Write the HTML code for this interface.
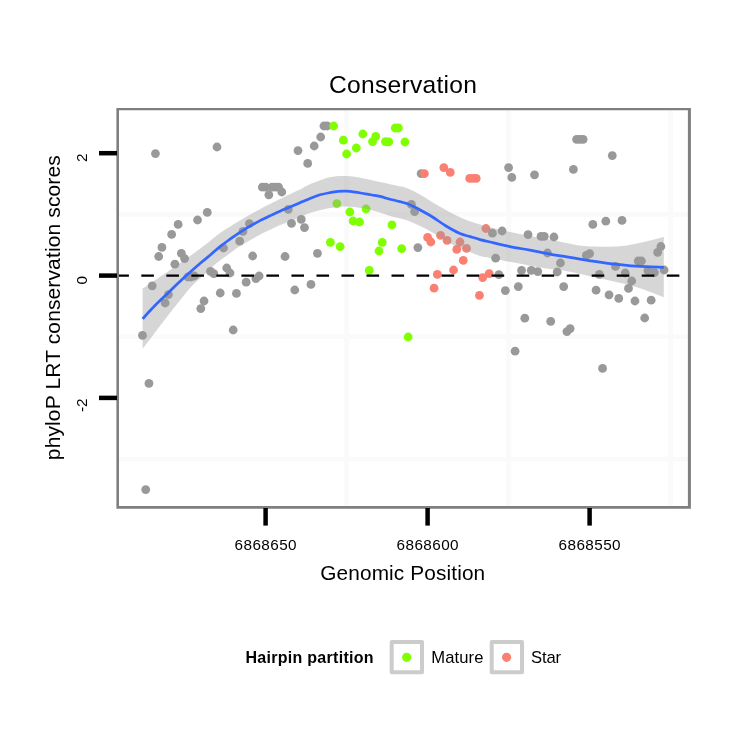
<!DOCTYPE html>
<html><head><meta charset="utf-8"><title>Conservation</title>
<style>
html,body{margin:0;padding:0;background:#fff;}
body{width:750px;height:750px;overflow:hidden;}
svg{display:block;}
text{font-family:"Liberation Sans",sans-serif;fill:#000;}
</style></head><body>
<svg width="750" height="750" viewBox="0 0 750 750">
<rect x="0" y="0" width="750" height="750" fill="#ffffff"/>
<!-- minor grid -->
<g stroke="#fafafa" stroke-width="4.6" fill="none">
<line x1="118" x2="690" y1="214.4" y2="214.4"/>
<line x1="118" x2="690" y1="336.8" y2="336.8"/>
<line x1="118" x2="690" y1="459.2" y2="459.2"/>
<line x1="346.6" x2="346.6" y1="109" y2="507"/>
<line x1="508.6" x2="508.6" y1="109" y2="507"/>
<line x1="670.6" x2="670.6" y1="109" y2="507"/>
</g>
<!-- points -->
<g stroke="none" fill="#999999">
<circle cx="142.48" cy="335.4" r="4.4"/>
<circle cx="145.72" cy="489.6" r="4.4"/>
<circle cx="148.96" cy="383.4" r="4.4"/>
<circle cx="152.20" cy="285.8" r="4.4"/>
<circle cx="155.44" cy="153.6" r="4.4"/>
<circle cx="158.68" cy="256.5" r="4.4"/>
<circle cx="161.92" cy="247.4" r="4.4"/>
<circle cx="165.16" cy="303.0" r="4.4"/>
<circle cx="168.40" cy="294.6" r="4.4"/>
<circle cx="171.64" cy="234.4" r="4.4"/>
<circle cx="174.88" cy="264.2" r="4.4"/>
<circle cx="178.12" cy="224.4" r="4.4"/>
<circle cx="181.36" cy="253.4" r="4.4"/>
<circle cx="184.60" cy="258.6" r="4.4"/>
<circle cx="187.84" cy="277.0" r="4.4"/>
<circle cx="191.08" cy="277.0" r="4.4"/>
<circle cx="194.32" cy="276.0" r="4.4"/>
<circle cx="197.56" cy="220.0" r="4.4"/>
<circle cx="200.80" cy="308.6" r="4.4"/>
<circle cx="204.04" cy="301.0" r="4.4"/>
<circle cx="207.28" cy="212.4" r="4.4"/>
<circle cx="210.52" cy="271.4" r="4.4"/>
<circle cx="213.76" cy="273.6" r="4.4"/>
<circle cx="217.00" cy="147.0" r="4.4"/>
<circle cx="220.24" cy="293.0" r="4.4"/>
<circle cx="223.48" cy="248.0" r="4.4"/>
<circle cx="226.72" cy="268.0" r="4.4"/>
<circle cx="229.96" cy="273.0" r="4.4"/>
<circle cx="233.20" cy="330.0" r="4.4"/>
<circle cx="236.44" cy="293.4" r="4.4"/>
<circle cx="239.68" cy="241.2" r="4.4"/>
<circle cx="242.92" cy="231.4" r="4.4"/>
<circle cx="246.16" cy="282.2" r="4.4"/>
<circle cx="249.40" cy="223.6" r="4.4"/>
<circle cx="252.64" cy="256.0" r="4.4"/>
<circle cx="255.88" cy="278.6" r="4.4"/>
<circle cx="259.12" cy="276.0" r="4.4"/>
<circle cx="262.36" cy="187.2" r="4.4"/>
<circle cx="265.60" cy="187.2" r="4.4"/>
<circle cx="268.84" cy="194.8" r="4.4"/>
<circle cx="272.08" cy="187.2" r="4.4"/>
<circle cx="275.32" cy="187.2" r="4.4"/>
<circle cx="278.56" cy="187.2" r="4.4"/>
<circle cx="281.80" cy="192.0" r="4.4"/>
<circle cx="285.04" cy="256.5" r="4.4"/>
<circle cx="288.28" cy="209.4" r="4.4"/>
<circle cx="291.52" cy="223.4" r="4.4"/>
<circle cx="294.76" cy="290.0" r="4.4"/>
<circle cx="298.00" cy="150.6" r="4.4"/>
<circle cx="301.24" cy="219.4" r="4.4"/>
<circle cx="304.48" cy="227.6" r="4.4"/>
<circle cx="307.72" cy="163.4" r="4.4"/>
<circle cx="310.96" cy="284.4" r="4.4"/>
<circle cx="314.20" cy="146.0" r="4.4"/>
<circle cx="317.44" cy="253.3" r="4.4"/>
<circle cx="320.68" cy="137.0" r="4.4"/>
<circle cx="323.92" cy="126.0" r="4.4"/>
<circle cx="327.16" cy="126.0" r="4.4"/>
<circle cx="411.40" cy="204.4" r="4.4"/>
<circle cx="414.64" cy="211.6" r="4.4"/>
<circle cx="417.88" cy="247.6" r="4.4"/>
<circle cx="421.12" cy="173.6" r="4.4"/>
<circle cx="492.40" cy="233.2" r="4.4"/>
<circle cx="495.64" cy="258.2" r="4.4"/>
<circle cx="498.88" cy="274.6" r="4.4"/>
<circle cx="502.12" cy="231.0" r="4.4"/>
<circle cx="505.36" cy="290.6" r="4.4"/>
<circle cx="508.60" cy="167.6" r="4.4"/>
<circle cx="511.84" cy="177.4" r="4.4"/>
<circle cx="515.08" cy="351.2" r="4.4"/>
<circle cx="518.32" cy="286.6" r="4.4"/>
<circle cx="521.56" cy="270.4" r="4.4"/>
<circle cx="524.80" cy="318.2" r="4.4"/>
<circle cx="528.04" cy="234.6" r="4.4"/>
<circle cx="531.28" cy="270.4" r="4.4"/>
<circle cx="534.52" cy="174.8" r="4.4"/>
<circle cx="537.76" cy="271.6" r="4.4"/>
<circle cx="541.00" cy="236.4" r="4.4"/>
<circle cx="544.24" cy="236.4" r="4.4"/>
<circle cx="547.48" cy="253.0" r="4.4"/>
<circle cx="550.72" cy="321.4" r="4.4"/>
<circle cx="553.96" cy="237.0" r="4.4"/>
<circle cx="557.20" cy="272.0" r="4.4"/>
<circle cx="560.44" cy="263.0" r="4.4"/>
<circle cx="563.68" cy="286.6" r="4.4"/>
<circle cx="566.92" cy="331.6" r="4.4"/>
<circle cx="570.16" cy="328.6" r="4.4"/>
<circle cx="573.40" cy="169.4" r="4.4"/>
<circle cx="576.64" cy="139.4" r="4.4"/>
<circle cx="579.88" cy="139.4" r="4.4"/>
<circle cx="583.12" cy="139.4" r="4.4"/>
<circle cx="586.36" cy="255.4" r="4.4"/>
<circle cx="589.60" cy="253.6" r="4.4"/>
<circle cx="592.84" cy="224.4" r="4.4"/>
<circle cx="596.08" cy="290.2" r="4.4"/>
<circle cx="599.32" cy="274.4" r="4.4"/>
<circle cx="602.56" cy="368.4" r="4.4"/>
<circle cx="605.80" cy="221.2" r="4.4"/>
<circle cx="609.04" cy="294.8" r="4.4"/>
<circle cx="612.28" cy="155.6" r="4.4"/>
<circle cx="615.52" cy="266.4" r="4.4"/>
<circle cx="618.76" cy="298.4" r="4.4"/>
<circle cx="622.00" cy="220.4" r="4.4"/>
<circle cx="625.24" cy="273.0" r="4.4"/>
<circle cx="628.48" cy="288.4" r="4.4"/>
<circle cx="631.72" cy="281.0" r="4.4"/>
<circle cx="634.96" cy="301.0" r="4.4"/>
<circle cx="638.20" cy="261.0" r="4.4"/>
<circle cx="641.44" cy="261.0" r="4.4"/>
<circle cx="644.68" cy="318.0" r="4.4"/>
<circle cx="647.92" cy="270.6" r="4.4"/>
<circle cx="651.16" cy="300.2" r="4.4"/>
<circle cx="654.40" cy="272.6" r="4.4"/>
<circle cx="657.64" cy="252.3" r="4.4"/>
<circle cx="660.88" cy="246.5" r="4.4"/>
<circle cx="664.12" cy="270.0" r="4.4"/>
</g>
<g stroke="none" fill="#7fff00">
<circle cx="330.40" cy="242.4" r="4.4"/>
<circle cx="333.64" cy="126.0" r="4.4"/>
<circle cx="336.88" cy="203.6" r="4.4"/>
<circle cx="340.12" cy="246.6" r="4.4"/>
<circle cx="343.36" cy="140.2" r="4.4"/>
<circle cx="346.60" cy="154.0" r="4.4"/>
<circle cx="349.84" cy="212.0" r="4.4"/>
<circle cx="353.08" cy="221.0" r="4.4"/>
<circle cx="356.32" cy="148.0" r="4.4"/>
<circle cx="359.56" cy="222.0" r="4.4"/>
<circle cx="362.80" cy="134.0" r="4.4"/>
<circle cx="366.04" cy="209.0" r="4.4"/>
<circle cx="369.28" cy="270.4" r="4.4"/>
<circle cx="372.52" cy="141.6" r="4.4"/>
<circle cx="375.76" cy="136.4" r="4.4"/>
<circle cx="379.00" cy="251.0" r="4.4"/>
<circle cx="382.24" cy="242.4" r="4.4"/>
<circle cx="385.48" cy="141.6" r="4.4"/>
<circle cx="388.72" cy="141.8" r="4.4"/>
<circle cx="391.96" cy="224.8" r="4.4"/>
<circle cx="395.20" cy="128.0" r="4.4"/>
<circle cx="398.44" cy="128.0" r="4.4"/>
<circle cx="401.68" cy="248.6" r="4.4"/>
<circle cx="404.92" cy="142.0" r="4.4"/>
<circle cx="408.16" cy="337.0" r="4.4"/>
</g>
<g stroke="none" fill="#fa8072">
<circle cx="424.36" cy="173.6" r="4.4"/>
<circle cx="427.60" cy="237.4" r="4.4"/>
<circle cx="430.84" cy="242.0" r="4.4"/>
<circle cx="434.08" cy="288.2" r="4.4"/>
<circle cx="437.32" cy="274.4" r="4.4"/>
<circle cx="440.56" cy="235.4" r="4.4"/>
<circle cx="443.80" cy="167.6" r="4.4"/>
<circle cx="447.04" cy="240.4" r="4.4"/>
<circle cx="450.28" cy="172.4" r="4.4"/>
<circle cx="453.52" cy="270.0" r="4.4"/>
<circle cx="456.76" cy="249.4" r="4.4"/>
<circle cx="460.00" cy="242.0" r="4.4"/>
<circle cx="463.24" cy="260.4" r="4.4"/>
<circle cx="466.48" cy="248.4" r="4.4"/>
<circle cx="469.72" cy="178.4" r="4.4"/>
<circle cx="472.96" cy="178.4" r="4.4"/>
<circle cx="476.20" cy="178.4" r="4.4"/>
<circle cx="479.44" cy="295.4" r="4.4"/>
<circle cx="482.68" cy="277.6" r="4.4"/>
<circle cx="485.92" cy="228.5" r="4.4"/>
<circle cx="489.16" cy="273.6" r="4.4"/>
</g>
<!-- smooth -->
<path d="M142.60,288.60 C144.67,287.20 150.77,283.05 155.00,280.20 C159.23,277.35 163.58,274.53 168.00,271.50 C172.42,268.47 177.00,265.18 181.50,262.02 C186.00,258.85 190.58,255.70 195.00,252.50 C199.42,249.30 203.83,246.03 208.00,242.80 C212.17,239.57 214.67,236.82 220.00,233.10 C225.33,229.38 233.33,224.48 240.00,220.50 C246.67,216.52 253.33,212.77 260.00,209.20 C266.67,205.63 275.00,201.60 280.00,199.10 C285.00,196.60 286.67,195.78 290.00,194.20 C293.33,192.62 296.67,191.27 300.00,189.60 C303.33,187.93 305.00,186.25 310.00,184.20 C315.00,182.15 324.00,178.65 330.00,177.30 C336.00,175.95 340.45,175.92 346.00,176.10 C351.55,176.28 357.63,177.41 363.30,178.39 C368.97,179.38 375.55,181.03 380.00,182.00 C384.45,182.97 385.55,183.20 390.00,184.20 C394.45,185.20 401.70,186.28 406.70,188.00 C411.70,189.72 415.57,192.05 420.00,194.50 C424.43,196.95 428.97,200.12 433.30,202.70 C437.63,205.28 441.55,207.57 446.00,210.00 C450.45,212.43 456.00,215.42 460.00,217.30 C464.00,219.18 466.67,220.10 470.00,221.30 C473.33,222.50 476.67,223.50 480.00,224.50 C483.33,225.50 485.00,226.05 490.00,227.30 C495.00,228.55 503.33,230.55 510.00,232.00 C516.67,233.45 523.33,234.73 530.00,236.00 C536.67,237.27 543.33,238.30 550.00,239.60 C556.67,240.90 563.83,242.68 570.00,243.80 C576.17,244.92 578.67,245.88 587.00,246.30 C595.33,246.72 610.33,247.07 620.00,246.30 C629.67,245.53 637.70,243.25 645.00,241.70 C652.30,240.15 660.67,237.78 663.80,237.00 L663.80,297.20 C660.67,296.00 651.80,292.27 645.00,290.00 C638.20,287.73 632.17,285.88 623.00,283.60 C613.83,281.32 598.83,278.27 590.00,276.30 C581.17,274.33 575.00,272.80 570.00,271.80 C565.00,270.80 563.33,270.77 560.00,270.30 C556.67,269.83 553.33,269.47 550.00,269.00 C546.67,268.53 543.33,268.05 540.00,267.50 C536.67,266.95 535.00,266.65 530.00,265.70 C525.00,264.75 516.67,263.10 510.00,261.80 C503.33,260.50 495.00,258.87 490.00,257.90 C485.00,256.93 483.33,256.97 480.00,256.00 C476.67,255.03 473.67,253.59 470.00,252.10 C466.33,250.61 462.00,248.86 458.00,247.06 C454.00,245.27 450.12,243.67 446.00,241.33 C441.88,238.99 437.63,235.56 433.30,233.00 C428.97,230.45 424.43,228.12 420.00,226.00 C415.57,223.88 411.70,221.94 406.70,220.29 C401.70,218.64 394.45,217.39 390.00,216.10 C385.55,214.82 384.45,213.90 380.00,212.60 C375.55,211.30 368.97,209.34 363.30,208.30 C357.63,207.27 351.55,206.43 346.00,206.40 C340.45,206.37 336.00,207.00 330.00,208.10 C324.00,209.20 315.00,211.48 310.00,213.00 C305.00,214.52 303.33,215.80 300.00,217.20 C296.67,218.60 293.33,220.08 290.00,221.40 C286.67,222.72 285.00,222.87 280.00,225.10 C275.00,227.33 266.67,231.32 260.00,234.80 C253.33,238.28 245.33,242.67 240.00,246.00 C234.67,249.33 232.17,251.70 228.00,254.78 C223.83,257.86 219.50,260.71 215.00,264.50 C210.50,268.29 205.00,273.75 201.00,277.50 C197.00,281.25 194.25,283.50 191.00,287.00 C187.75,290.50 185.33,293.75 181.50,298.50 C177.67,303.25 172.42,309.83 168.00,315.50 C163.58,321.17 159.23,326.95 155.00,332.50 C150.77,338.05 144.67,346.08 142.60,348.80 Z" fill="#999999" fill-opacity="0.4" stroke="none"/>
<path d="M142.60,318.80 C144.67,316.58 150.72,309.85 155.00,305.50 C159.28,301.15 164.47,296.40 168.30,292.70 C172.13,289.00 174.67,286.45 178.00,283.30 C181.33,280.15 184.63,277.10 188.30,273.80 C191.97,270.50 196.38,266.58 200.00,263.50 C203.62,260.42 206.67,258.12 210.00,255.30 C213.33,252.48 216.67,249.28 220.00,246.60 C223.33,243.92 226.67,241.57 230.00,239.20 C233.33,236.83 236.67,234.57 240.00,232.40 C243.33,230.23 246.67,228.17 250.00,226.20 C253.33,224.23 256.67,222.33 260.00,220.60 C263.33,218.87 266.67,217.37 270.00,215.80 C273.33,214.23 276.67,212.65 280.00,211.20 C283.33,209.75 286.67,208.50 290.00,207.10 C293.33,205.70 296.67,204.23 300.00,202.80 C303.33,201.37 306.67,199.83 310.00,198.50 C313.33,197.17 316.67,195.78 320.00,194.80 C323.33,193.82 327.00,193.16 330.00,192.60 C333.00,192.04 335.33,191.68 338.00,191.45 C340.67,191.22 343.17,191.10 346.00,191.20 C348.83,191.30 352.12,191.68 355.00,192.06 C357.88,192.44 360.47,193.00 363.30,193.49 C366.13,193.97 369.22,194.49 372.00,194.98 C374.78,195.46 377.00,195.70 380.00,196.40 C383.00,197.10 386.67,198.33 390.00,199.20 C393.33,200.07 397.22,200.87 400.00,201.60 C402.78,202.33 404.37,202.73 406.70,203.60 C409.03,204.47 411.45,205.57 414.00,206.80 C416.55,208.03 418.78,209.22 422.00,211.00 C425.22,212.78 429.30,215.00 433.30,217.50 C437.30,220.00 441.55,223.33 446.00,226.00 C450.45,228.67 456.00,231.73 460.00,233.50 C464.00,235.27 466.67,235.58 470.00,236.60 C473.33,237.62 476.67,238.69 480.00,239.60 C483.33,240.51 485.00,240.87 490.00,242.03 C495.00,243.19 503.33,245.21 510.00,246.57 C516.67,247.93 523.33,248.95 530.00,250.20 C536.67,251.45 543.33,252.87 550.00,254.07 C556.67,255.27 563.33,256.28 570.00,257.40 C576.67,258.52 583.33,259.77 590.00,260.80 C596.67,261.83 602.22,262.70 610.00,263.60 C617.78,264.50 627.73,265.57 636.70,266.20 C645.67,266.83 659.28,267.20 663.80,267.40" fill="none" stroke="#3366ff" stroke-width="2.7" stroke-linejoin="round" stroke-linecap="butt"/>
<!-- zero line -->
<line x1="116.3" x2="689" y1="275.6" y2="275.6" stroke="#000" stroke-width="2.4" stroke-dasharray="12.6,12.42"/>
<!-- panel border -->
<path d="M116.4,108 H690.9 V508.8 H116.4 Z M119,110.3 V505.9 H687.9 V110.3 Z" fill="#7f7f7f" fill-rule="evenodd" stroke="none"/>
<!-- ticks -->
<g stroke="#000" stroke-width="4.5" fill="none">
<line x1="99" x2="117" y1="153.2" y2="153.2"/>
<line x1="99" x2="117" y1="275.6" y2="275.6"/>
<line x1="99" x2="117" y1="397.9" y2="397.9"/>
<line x1="265.6" x2="265.6" y1="508" y2="525.6"/>
<line x1="427.6" x2="427.6" y1="508" y2="525.6"/>
<line x1="589.6" x2="589.6" y1="508" y2="525.6"/>
</g>
<!-- tick labels -->
<g font-size="15.3px" text-anchor="middle">
<text x="265.6" y="550" textLength="62" lengthAdjust="spacing">6868650</text>
<text x="427.6" y="550" textLength="62" lengthAdjust="spacing">6868600</text>
<text x="589.6" y="550" textLength="62" lengthAdjust="spacing">6868550</text>
</g>
<g font-size="15.3px" text-anchor="end">
<text transform="translate(87.1,153.6) rotate(-90)" x="0" y="0">2</text>
<text transform="translate(87.1,276) rotate(-90)" x="0" y="0">0</text>
<text transform="translate(87.1,398.4) rotate(-90)" x="0" y="0">-2</text>
</g>
<!-- titles -->
<text x="403" y="93.3" font-size="24.6px" text-anchor="middle" textLength="148" lengthAdjust="spacing">Conservation</text>
<text x="402.7" y="579.5" font-size="20.8px" text-anchor="middle" textLength="165" lengthAdjust="spacing">Genomic Position</text>
<text transform="translate(59.7,307.7) rotate(-90)" font-size="21px" text-anchor="middle" textLength="305" lengthAdjust="spacing">phyloP LRT conservation scores</text>
<!-- legend -->
<text x="245.4" y="663" font-size="16px" font-weight="bold" textLength="128.2" lengthAdjust="spacing">Hairpin partition</text>
<rect x="391.7" y="642" width="30.3" height="30.2" fill="#ffffff" stroke="#cccccc" stroke-width="4" stroke-linejoin="round"/>
<circle cx="406.7" cy="657.3" r="4.6" fill="#7fff00"/>
<text x="431.2" y="662.8" font-size="16.6px" textLength="52.3" lengthAdjust="spacing">Mature</text>
<rect x="491.7" y="642" width="30.3" height="30.2" fill="#ffffff" stroke="#cccccc" stroke-width="4" stroke-linejoin="round"/>
<circle cx="506.6" cy="657.3" r="4.6" fill="#fa8072"/>
<text x="531" y="662.8" font-size="16.6px" textLength="30" lengthAdjust="spacing">Star</text>
</svg>
</body></html>
